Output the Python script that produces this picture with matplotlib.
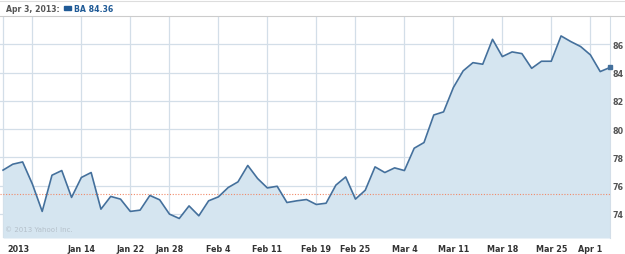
import numpy as np
import matplotlib
matplotlib.use("Agg")
import matplotlib.pyplot as plt
from matplotlib.transforms import ScaledTranslation

# daily closes, BA, Jan 2 - Apr 3 2013 (trading days only)
closes = [77.10, 77.52, 77.68, 76.11, 74.18, 76.74, 77.07, 75.17, 76.58, 76.93,
          74.34, 75.24, 75.05, 74.18, 74.27, 75.31, 75.00, 73.99, 73.68, 74.57,
          73.87, 74.93, 75.21, 75.87, 76.27, 77.43, 76.51, 75.84, 75.96, 74.81,
          74.93, 75.02, 74.67, 74.76, 76.04, 76.62, 75.05, 75.68, 77.33, 76.93,
          77.26, 77.07, 78.65, 79.05, 81.00, 81.22, 82.94, 84.12, 84.70, 84.59,
          86.35, 85.13, 85.46, 85.34, 84.30, 84.80, 84.80, 86.59, 86.19, 85.84,
          85.25, 84.07, 84.36]
prev_close = 75.40

# week starts (trading day index) and their labels
tick_idx = [0, 3, 8, 13, 17, 22, 27, 32, 36, 41, 46, 51, 56, 60]
tick_labels = ["2013", "", "Jan 14", "Jan 22", "Jan 28", "Feb 4", "Feb 11",
               "Feb 19", "Feb 25", "Mar 4", "Mar 11", "Mar 18", "Mar 25", "Apr 1"]
y_ticks = [74, 76, 78, 80, 82, 84, 86]

line_col = "#44709c"
fill_col = "#d5e5f0"
grid_col = "#d3dee8"
fs = 5.8

fig = plt.figure(figsize=(6.25, 2.55), dpi=100)
ax = fig.add_axes([0, 1 - 239 / 255, 610 / 625, 222 / 255])

x = np.arange(len(closes))
ylo, yhi = 72.3, 88.0
ax.fill_between(x, closes, ylo, color=fill_col, lw=0, zorder=1)
ax.plot(x, closes, color=line_col, lw=1.2, zorder=3)
ax.plot(x[-1], closes[-1], marker="s", ms=2.5, color=line_col, zorder=4, clip_on=False)
ax.axhline(prev_close, color="#f08a6a", lw=0.8, ls=(0, (1, 1.5)), zorder=2)

ax.set_xlim(-0.31, len(closes) - 1)
ax.set_ylim(ylo, yhi)

ax.set_xticks(tick_idx)
ax.set_xticklabels(tick_labels)
ax.set_yticks(y_ticks)
ax.yaxis.tick_right()
ax.grid(True, color=grid_col, lw=0.9, zorder=0)
ax.set_axisbelow(True)
ax.tick_params(length=0, labelsize=fs, labelcolor="#333333", pad=4)
ax.tick_params(axis="y", pad=2, labelcolor="#555555")
for lab in ax.get_xticklabels() + ax.get_yticklabels():
    lab.set_fontweight("bold")
first = ax.get_xticklabels()[0]
first.set_ha("left")
first.set_transform(first.get_transform() + ScaledTranslation(4 / 100, 0, fig.dpi_scale_trans))

for s in ["left", "top", "bottom"]:
    ax.spines[s].set_visible(False)
ax.spines["right"].set_color(grid_col)

ax.text(0.008, 0.025, "\u00a9 2013 Yahoo! Inc.", transform=ax.transAxes,
        fontsize=5, color="#b5c0ca", ha="left", va="bottom")

# header
fig.add_artist(plt.Line2D([0, 1], [1 - 1.5 / 255] * 2, color="#dddddd", lw=0.8))
fig.add_artist(plt.Line2D([0, 1], [1 - 17 / 255] * 2, color="#cccccc", lw=0.8))
fig.text(6 / 625, 1 - 9 / 255, "Apr 3, 2013:", fontsize=5.6, fontweight="bold",
         color="#555555", va="center", ha="left")
fig.patches.append(plt.Rectangle((64 / 625, 1 - 11 / 255), 7 / 625, 4 / 255,
                                 transform=fig.transFigure, color="#1f5a96"))
fig.text(74 / 625, 1 - 9 / 255, "BA 84.36", fontsize=5.6, fontweight="bold",
         color="#1f5a96", va="center", ha="left")

fig.savefig("out.png", dpi=100)
